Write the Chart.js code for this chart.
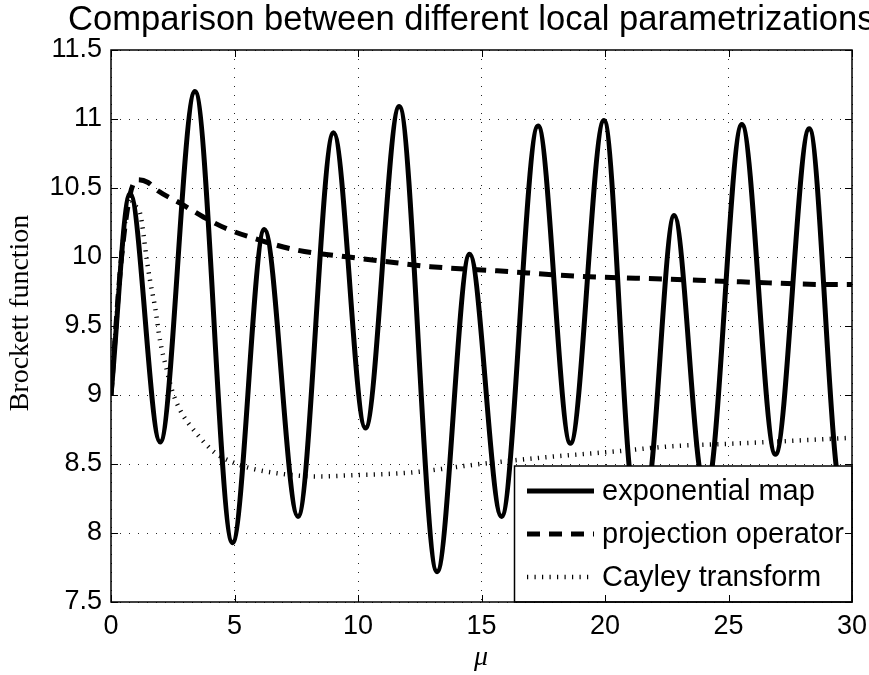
<!DOCTYPE html>
<html lang="en">
<head>
    <meta charset="UTF-8">
    <title>Comparison between different local parametrizations</title>
    <script src="https://cdn.jsdelivr.net/npm/chart.js@4.4.1/dist/chart.umd.min.js"></script>
    <style>
        body {
            margin: 0;
            padding: 0;
            background: #fff;
        }
        canvas {
            display: block;
        }
    </style>
</head>
<body>
    <canvas id="chart" width="869" height="675"></canvas>

    <script>
        // values
        const muExp = [0, 0.77, 1.99, 3.4, 4.92, 6.21, 7.57, 9.01, 10.3, 11.67, 13.2, 14.52, 15.81, 17.29, 18.6, 19.96, 20.97, 21.43, 21.9, 22.8, 23.8, 24.07, 24.35, 25.54, 26.9, 28.27, 29.35, 30];
        const expMap = [9.0, 10.46, 8.66, 11.2, 7.93, 10.2, 8.12, 10.9, 8.76, 11.09, 7.72, 10.02, 8.12, 10.95, 8.65, 10.99, 8.5, 7.8, 8.5, 10.3, 8.5, 8.27, 8.5, 10.96, 8.57, 10.93, 8.5, 7.9];

        const muProj = [0, 0.4, 0.77, 1.1, 1.5, 1.9, 2.8, 3.74, 4.62, 5.7, 7.53, 9.62, 11.45, 12.93, 15.63, 19.0, 22.4, 25.5, 29.3, 30];
        const projOp = [9.0, 9.95, 10.45, 10.56, 10.54, 10.48, 10.39, 10.29, 10.21, 10.14, 10.05, 10.0, 9.96, 9.93, 9.90, 9.86, 9.84, 9.82, 9.80, 9.80];

        const muCay = [0, 0.4, 0.77, 0.9, 1.17, 1.45, 1.58, 1.78, 1.99, 2.26, 2.46, 2.8, 3.47, 4.22, 4.96, 5.63, 6.85, 8.34, 9.96, 11.45, 12.25, 14.95, 17.66, 20.36, 22.8, 25.5, 28.9, 30];
        const cayley = [9.0, 9.95, 10.43, 10.38, 10.32, 9.98, 9.83, 9.64, 9.39, 9.18, 9.04, 8.89, 8.72, 8.58, 8.51, 8.47, 8.43, 8.41, 8.42, 8.43, 8.44, 8.50, 8.55, 8.59, 8.63, 8.65, 8.68, 8.69];

        const seriesNames = ['exponential map', 'projection operator', 'Cayley transform'];
        const xTicks = [0, 5, 10, 15, 20, 25, 30];
        const yTicks = [7.5, 8, 8.5, 9, 9.5, 10, 10.5, 11, 11.5];

        const titleText = 'Comparison between different local parametrizations';
        const yTitle = 'Brockett function';
        const xTitle = 'μ';

        function toPoints(xs, ys) {
            return xs.map((x, i) => ({ x: x, y: ys[i] }));
        }

        // legend box, frame with inward ticks, title and axis labels
        const decorations = {
            id: 'decorations',
            afterDatasetsDraw(chart) {
                const ctx = chart.ctx;
                const area = chart.chartArea;
                const xs = chart.scales.x;
                const ys = chart.scales.y;

                // legend
                ctx.save();
                const lx = 514.5, ly = 466;
                ctx.fillStyle = '#fff';
                ctx.fillRect(lx, ly, area.right - lx, area.bottom - ly);
                ctx.lineWidth = 1.5;
                ctx.strokeStyle = '#000';
                ctx.strokeRect(lx, ly, area.right - lx, area.bottom - ly);
                const rows = [491, 534, 577];
                chart.data.datasets.forEach((ds, i) => {
                    ctx.save();
                    ctx.lineWidth = ds.borderWidth;
                    ctx.strokeStyle = ds.borderColor;
                    ctx.lineCap = 'butt';
                    ctx.setLineDash(ds.borderDash || []);
                    ctx.beginPath();
                    ctx.moveTo(527, rows[i]);
                    ctx.lineTo(594, rows[i]);
                    ctx.stroke();
                    ctx.restore();
                    ctx.fillStyle = '#000';
                    ctx.font = '29px "Liberation Sans", Arial, sans-serif';
                    ctx.textAlign = 'left';
                    ctx.textBaseline = 'middle';
                    ctx.fillText(ds.label, 602, rows[i] + 1);
                });
                ctx.restore();

                // frame
                ctx.save();
                ctx.strokeStyle = '#000';
                ctx.lineWidth = 1.5;
                ctx.strokeRect(area.left, area.top, area.right - area.left, area.bottom - area.top);
                ctx.lineWidth = 1;
                ctx.beginPath();
                xTicks.forEach(v => {
                    const px = Math.round(xs.getPixelForValue(v)) + 0.5;
                    ctx.moveTo(px, area.bottom); ctx.lineTo(px, area.bottom - 7);
                    ctx.moveTo(px, area.top); ctx.lineTo(px, area.top + 7);
                });
                yTicks.forEach(v => {
                    const py = Math.round(ys.getPixelForValue(v)) + 0.5;
                    ctx.moveTo(area.left, py); ctx.lineTo(area.left + 7, py);
                    ctx.moveTo(area.right, py); ctx.lineTo(area.right - 7, py);
                });
                ctx.stroke();
                ctx.restore();
            },
            afterDraw(chart) {
                const ctx = chart.ctx;
                ctx.save();
                ctx.fillStyle = '#000';

                ctx.font = '34.6px "Liberation Sans", Arial, sans-serif';
                ctx.textAlign = 'left';
                ctx.textBaseline = 'alphabetic';
                ctx.fillText(titleText, 68, 30);

                ctx.font = '28px "Liberation Serif", "Times New Roman", serif';
                ctx.textAlign = 'center';
                ctx.textBaseline = 'middle';
                ctx.save();
                ctx.translate(21, 313);
                ctx.rotate(-Math.PI / 2);
                ctx.fillText(yTitle, 0, 0);
                ctx.restore();

                ctx.font = 'italic 28px "Liberation Serif", "Times New Roman", serif';
                ctx.fillText(xTitle, 481, 658);
                ctx.restore();
            }
        };

        const ctx = document.getElementById('chart').getContext('2d');
        new Chart(ctx, {
            type: 'line',
            data: {
                datasets: [
                    {
                        label: seriesNames[0],
                        data: toPoints(muExp, expMap),
                        borderColor: '#000',
                        borderWidth: 5,
                        cubicInterpolationMode: 'monotone',
                        pointRadius: 0
                    },
                    {
                        label: seriesNames[1],
                        data: toPoints(muProj, projOp),
                        borderColor: '#000',
                        borderWidth: 5,
                        borderDash: [13, 9],
                        cubicInterpolationMode: 'monotone',
                        pointRadius: 0
                    },
                    {
                        label: seriesNames[2],
                        data: toPoints(muCay, cayley),
                        borderColor: '#000',
                        borderWidth: 4.5,
                        borderDash: [1.2, 6.3],
                        borderCapStyle: 'butt',
                        cubicInterpolationMode: 'monotone',
                        pointRadius: 0
                    }
                ]
            },
            options: {
                responsive: false,
                animation: false,
                layout: {
                    padding: { top: 50, right: 17, left: 0, bottom: 0 }
                },
                plugins: {
                    legend: { display: false },
                    title: { display: false },
                    tooltip: { enabled: false }
                },
                scales: {
                    x: {
                        type: 'linear',
                        min: 0,
                        max: 30,
                        afterFit: scale => {
                            scale.height = 73;
                            scale.paddingLeft = 0;
                            scale.paddingRight = 0;
                        },
                        afterBuildTicks: scale => { scale.ticks = xTicks.map(v => ({ value: v })); },
                        ticks: {
                            autoSkip: false,
                            maxRotation: 0,
                            padding: 8,
                            color: '#000',
                            callback: v => String(v),
                            font: { family: '"Liberation Sans", Arial, sans-serif', size: 27 }
                        },
                        grid: {
                            color: 'rgba(0,0,0,0.85)',
                            lineWidth: 1,
                            drawTicks: false
                        },
                        border: { display: false, dash: [1, 8] }
                    },
                    y: {
                        type: 'linear',
                        min: 7.5,
                        max: 11.5,
                        afterFit: scale => {
                            scale.width = 111;
                            scale.paddingTop = 0;
                            scale.paddingBottom = 0;
                        },
                        afterBuildTicks: scale => { scale.ticks = yTicks.map(v => ({ value: v })); },
                        ticks: {
                            autoSkip: false,
                            padding: 9,
                            color: '#000',
                            callback: v => String(v),
                            font: { family: '"Liberation Sans", Arial, sans-serif', size: 27 }
                        },
                        grid: {
                            color: 'rgba(0,0,0,0.85)',
                            lineWidth: 1,
                            drawTicks: false
                        },
                        border: { display: false, dash: [1, 8] }
                    }
                }
            },
            plugins: [decorations]
        });
    </script>
</body>
</html>
